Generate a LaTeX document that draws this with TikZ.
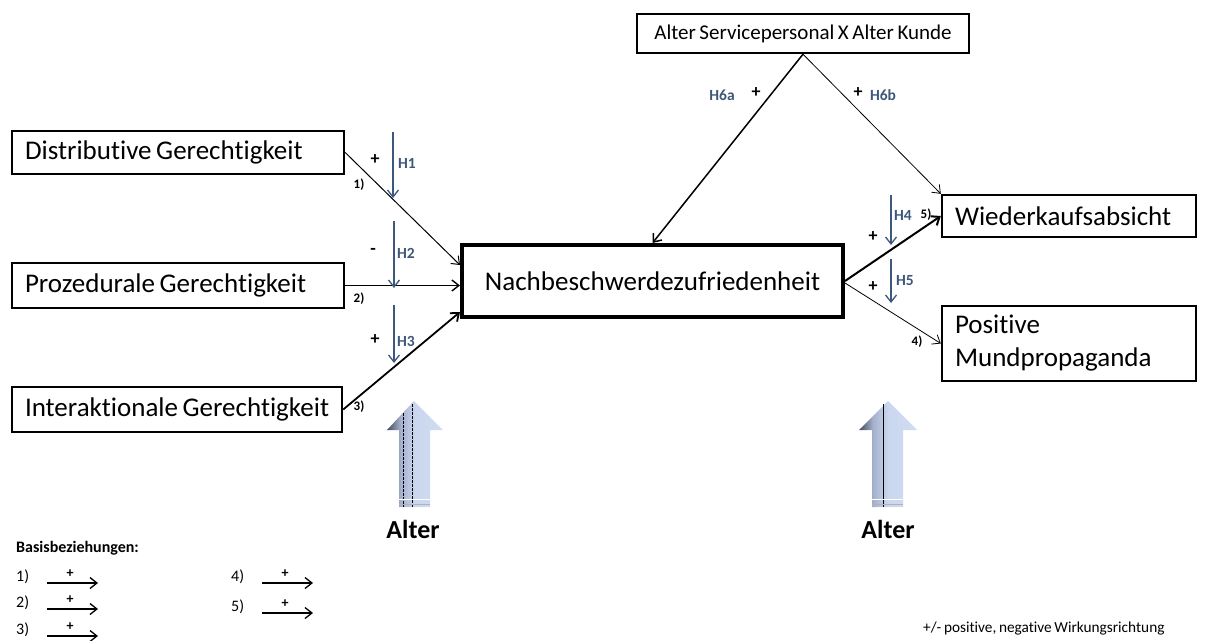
\documentclass[tikz,border=0pt]{standalone}
\usepackage{fontspec}
\setmainfont{Carlito}[WordSpace=0.75, Ligatures=NoCommon]
\usetikzlibrary{arrows.meta,calc}
\definecolor{hblue}{RGB}{62,88,124}
\definecolor{lightarrow}{RGB}{208,220,242}
\definecolor{midarrow}{RGB}{165,177,205}
\definecolor{darkarrow}{RGB}{70,74,90}
\pgfdeclarehorizontalshading{altershade}{100bp}{color(0bp)=(darkarrow); color(25bp)=(darkarrow); color(37bp)=(midarrow); color(50bp)=(lightarrow!88!midarrow); color(75bp)=(lightarrow); color(100bp)=(lightarrow)}
\begin{document}
\begin{tikzpicture}[x=1pt,y=-1pt,
  >={Straight Barb[length=7pt,width=11pt]},
  box/.style={draw, line width=2.4pt, inner sep=0pt, font=\fontsize{27}{32}\selectfont},
  hyp/.style={->, draw=hblue, line width=1.3pt},
  hlab/.style={text=hblue, font=\bfseries\fontsize{15.5}{18}\selectfont, inner sep=0pt},
  sign/.style={font=\bfseries\fontsize{18}{20}\selectfont, inner sep=0pt},
  num/.style={font=\bfseries\fontsize{13}{15}\selectfont, inner sep=0pt},
  bigarrow/.style={shading=altershade},
  alterlab/.style={font=\bfseries\fontsize{26}{30}\selectfont, inner sep=0pt},
  legnum/.style={anchor=west, font=\fontsize{16}{18}\selectfont, inner sep=0pt},
  legplus/.style={font=\bfseries\fontsize{14}{16}\selectfont, inner sep=0pt},
  legarrow/.style={->, line width=1.3pt},
]
\path[use as bounding box] (0,0) rectangle (1209,640);

% boxes
\node[box, minimum width=332pt, minimum height=43pt] (dist) at (178,152.5) {\makebox[306pt][l]{Distributive Gerechtigkeit}};
\node[box, minimum width=332pt, minimum height=45pt] (proz) at (178,285.5) {\makebox[306pt][l]{Prozedurale Gerechtigkeit}};
\node[box, minimum width=330pt, minimum height=45pt] (inter) at (177,409.5) {\makebox[304pt][l]{Interaktionale Gerechtigkeit}};
\node[box, line width=4pt, minimum width=381pt, minimum height=72pt] (nach) at (652.5,281) {Nachbeschwerdezufriedenheit};
\node[box, font=\fontsize{21}{25}\selectfont, minimum width=332pt, minimum height=39pt] (alter) at (803,33.5) {Alter Servicepersonal X Alter Kunde};
\node[box, minimum width=254pt, minimum height=42pt] (wieder) at (1069,216) {\makebox[228pt][l]{Wiederkaufsabsicht}};
\node[box, font=\fontsize{27}{33}\selectfont, minimum width=254pt, minimum height=75pt, text width=228pt, inner xsep=13pt, align=left] (pos) at (1069,343.5) {Positive\\Mundpropaganda};

% main connectors
\draw[->, line width=1pt] (dist.east) -- ([yshift=16pt]nach.west);
\draw[->, line width=1.4pt] (proz.east) -- (proz.east -| nach.west);
\draw[->, line width=1.8pt] (inter.east) -- ([yshift=-31pt]nach.west);
\draw[->, line width=1.5pt] (alter.south) -- (nach.north);
\draw[->, line width=0.8pt] (alter.south) -- (wieder.north west);
\draw[->, line width=2pt] (nach.east) -- (wieder.west);
\draw[->, line width=0.8pt] ([yshift=-2pt]nach.east) -- (pos.west);

% hypothesis arrows
\coordinate (h1a) at (393,132); \coordinate (h1b) at (393,198);
\coordinate (h2a) at (394,221); \coordinate (h2b) at (394,288);
\coordinate (h3a) at (394,305); \coordinate (h3b) at (394,363);
\coordinate (h4a) at (891,195); \coordinate (h4b) at (891,245);
\coordinate (h5a) at (891,259); \coordinate (h5b) at (891,303);
\draw[hyp] (h1a) -- (h1b);
\draw[hyp] (h2a) -- (h2b);
\draw[hyp] (h3a) -- (h3b);
\draw[hyp] (h4a) -- (h4b);
\draw[hyp] (h5a) -- (h5b);

% labels
\node[sign] (s1) at (375,160) {+};
\node[hlab] (lh1) at (407,163) {H1};
\node[sign] (s2) at (373,251) {-};
\node[hlab] (lh2) at (406,253) {H2};
\node[sign] (s3) at (375,340) {+};
\node[hlab] (lh3) at (406,341) {H3};
\node[num] (n1) at (359,185) {1)};
\node[num] (n2) at (359,299) {2)};
\node[num] (n3) at (359,407) {3)};
\node[hlab] (lh6a) at (722,95) {H6a};
\node[sign] (s6a) at (756,93) {+};
\node[sign] (s6b) at (858,93) {+};
\node[hlab] (lh6b) at (883,95) {H6b};
\node[hlab] (lh4) at (903,215) {H4};
\node[num] (n5) at (926,215) {5)};
\node[sign] (s4) at (873,237) {+};
\node[hlab] (lh5) at (905,281) {H5};
\node[sign] (s5) at (873,287) {+};
\node[num] (n4) at (917,342) {4)};

% big "Alter" arrows
\path[bigarrow] (414,401) -- (443,430) -- (430,430) -- (430,507) -- (399,507) -- (399,430) -- (387,430) -- cycle;
\draw[line width=0.6pt, dash pattern=on 3pt off 1pt] (403,413) -- (403,507);
\draw[line width=0.6pt, dash pattern=on 3pt off 1pt] (412,404) -- (412,507);
\draw[white, line width=0.8pt] (399,499) -- (430,499);
\draw[gray!60, line width=0.8pt] (399,504) -- (430,504);
\node[alterlab] (alt1) at (413,529) {Alter};

\path[bigarrow] (888,401) -- (917,430) -- (903,430) -- (903,507) -- (872,507) -- (872,430) -- (859,430) -- cycle;
\draw[line width=0.6pt] (883,404) -- (883,507);
\draw[white, line width=0.8pt] (872,499) -- (903,499);
\draw[gray!60, line width=0.8pt] (872,504) -- (903,504);
\node[alterlab] (alt2) at (888,529) {Alter};

% legend
\node[anchor=west, font=\bfseries\fontsize{16}{18}\selectfont, inner sep=0pt] (basis) at (16,548) {Basisbeziehungen:};
\foreach \n/\x/\y in {1/16/577, 2/16/603, 3/16/630, 4/231/577, 5/231/607} {
  \node[legnum] (ln\n) at (\x,\y) {\n)};
  \coordinate (la\n) at (\x+31,\y+6);
  \coordinate (lb\n) at (\x+82,\y+6);
  \draw[legarrow] (la\n) -- (lb\n);
  \node[legplus] (lp\n) at (\x+54,\y-3) {+};
}
\node[anchor=west, font=\fontsize{15.3}{18}\selectfont, inner sep=0pt] (note) at (923,628) {+/- positive, negative Wirkungsrichtung};
\end{tikzpicture}
\end{document}
